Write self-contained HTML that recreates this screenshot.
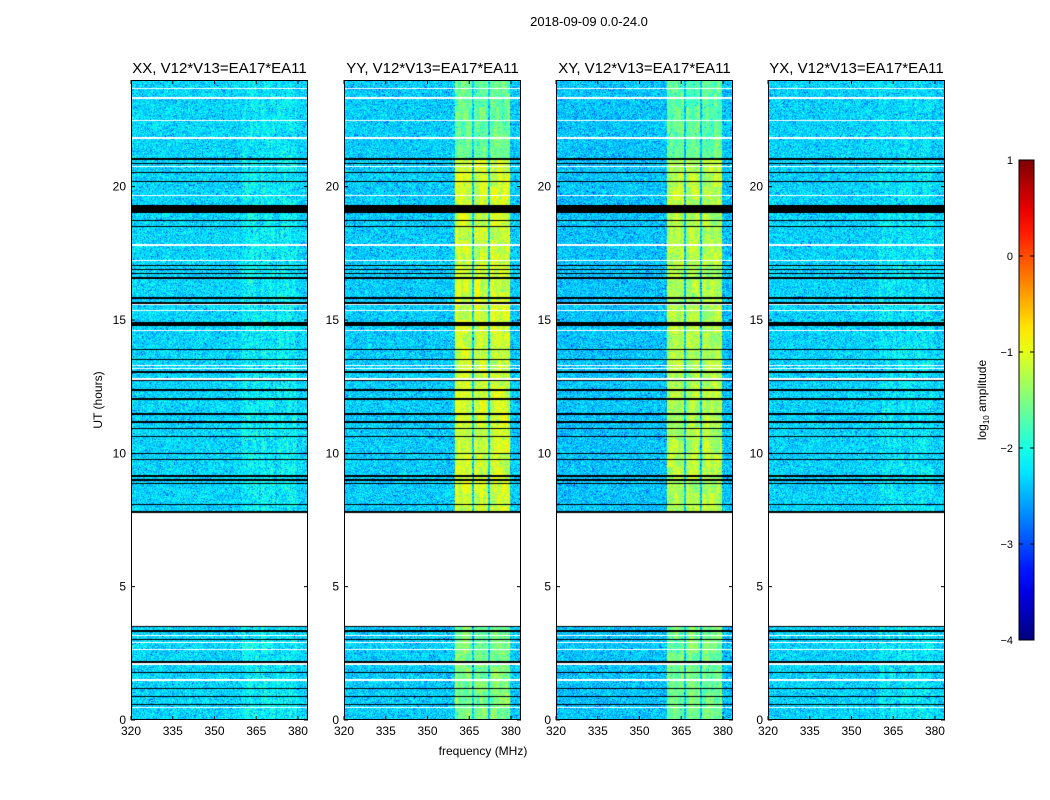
<!DOCTYPE html>
<html><head><meta charset="utf-8">
<style>
body{margin:0;background:#fff;width:1050px;height:800px;overflow:hidden;font-family:"Liberation Sans",sans-serif;}
#wrap{position:relative;width:1050px;height:800px;}
canvas{position:absolute;}
svg{position:absolute;left:0;top:0;}
</style></head>
<body>
<div id="wrap">
<svg id="ax" width="1050" height="800"></svg>
</div>
<script>
// ---- data ----
const panelTitles = ["XX, V12*V13=EA17*EA11","YY, V12*V13=EA17*EA11","XY, V12*V13=EA17*EA11","YX, V12*V13=EA17*EA11"];
const yTicks = [0,5,10,15,20];
const xTicks = [320,335,350,365,380];
const cbTicks = [1,0,-1,-2,-3,-4];
const baseLevel = [-2.3,-2.35,-2.4,-2.32];          // background log10 amplitude
const bandLevelMid = [-2.15,-1.1,-1.25,-2.2];       // 7.75-21 h
const bandLevelLow = [-2.15,-1.5,-1.55,-2.2];       // 0-3.5 h
const bandLevelTop = [-2.2,-1.6,-1.65,-2.25];       // 21-24 h
const bandRegions = [[360,366],[366.8,371.6],[372.5,379.6]];
const blankRange = [3.5,7.75];
const blackRows = [21.04,20.88,20.54,20.2,18.73,18.5,17.04,16.89,16.74,16.57,15.83,15.64,13.9,13.52,13.05,12.72,12.38,12.04,11.48,11.17,10.92,10.64,9.99,9.76,9.15,9.0,8.86,8.09,7.8,3.5,3.34,3.01,2.18,1.78,1.19,0.87,0.59];
const blackBands = [[19.03,19.3],[14.78,14.92]];
const whiteRows = [23.67,23.33,22.47,21.83,20.76,19.66,17.81,17.23,15.57,15.36,14.61,13.3,13.17,12.8,12.77,3.18,2.9,2.64,2.1,1.5,0.48];
// ---- layout ----
const PX=[131,344,556,768], PW=177, PT=80, PH=640, F0=320, F1=383.6, T1=24;
const NS='http://www.w3.org/2000/svg';
const svg=document.getElementById('ax');
function xs(f,i){return PX[i]+(f-F0)/(F1-F0)*PW;}
function ys(t){return PT+PH-(t/T1)*PH;}
function jet(v){
 const r=Math.min(Math.max(Math.min(4*v-1.5,-4*v+4.5),0),1);
 const g=Math.min(Math.max(Math.min(4*v-0.5,-4*v+3.5),0),1);
 const b=Math.min(Math.max(Math.min(4*v+0.5,-4*v+2.5),0),1);
 return [r*255|0,g*255|0,b*255|0];}
function hash(a,b,c){let h=(a*374761393+b*668265263+c*2147483647)|0;h=(h^(h>>>13))*1274126177|0;h=h^(h>>>16);return ((h>>>0)%10000)/10000;}
function el(tag,attrs,txt){const e=document.createElementNS(NS,tag);for(const k in attrs)e.setAttribute(k,attrs[k]);if(txt!==undefined)e.textContent=txt;svg.appendChild(e);return e;}
const NCH=64;
for(let p=0;p<4;p++){
 const c=document.createElement('canvas');c.width=PW;c.height=PH;
 c.style.left=PX[p]+'px';c.style.top=PT+'px';
 
 
 document.getElementById('wrap').insertBefore(c,svg);
 const ctx=c.getContext('2d');const img=ctx.createImageData(PW,PH);
 const strong = bandLevelMid[p] > -1.8;
 for(let y=0;y<PH;y++){
  const t=(PH-y-0.5)/PH*T1; const row=Math.floor(t/0.1);
  let flag=0;
  if(t>=blankRange[0]&&t<=blankRange[1])flag=2;
  for(const b of blackRows) if(Math.abs(t-b)<0.025)flag=1;
  for(const b of blackBands) if(t>=b[0]&&t<=b[1])flag=1;
  for(const w of whiteRows) if(Math.abs(t-w)<0.025)flag=2;
  const bl=t<blankRange[0]?bandLevelLow[p]:(t>21?bandLevelTop[p]:bandLevelMid[p]);
  for(let x=0;x<PW;x++){
   const f=F0+(x+0.5)/PW*(F1-F0); const ch=Math.floor(x/PW*NCH);
   let rgb;
   if(flag===1)rgb=[0,0,0];else if(flag===2)rgb=[255,255,255];
   else{
    let lv=baseLevel[p]; let inb=false;
    for(const r of bandRegions) if(f>=r[0]&&f<r[1])inb=true;
    if(inb) lv=bl+(hash(ch,Math.floor(row/5),p+7)-0.5)*(strong?0.4:0.25);
    const n=(hash(x,y,p)+hash(x,y,p+11)+hash(x,y,p+23))/3-0.5;
    lv+= n*(inb&&strong?0.7:1.3);
    if(hash(x,y,p+41)<0.035) lv-=0.6;
    rgb=jet((lv+4)/5);
   }
   const k=(y*PW+x)*4;img.data[k]=rgb[0];img.data[k+1]=rgb[1];img.data[k+2]=rgb[2];img.data[k+3]=255;
  }}
 ctx.putImageData(img,0,0);
 const fr=el('rect',{x:PX[p]+0.5,y:PT+0.5,width:PW-1,height:PH-1,fill:'none',stroke:'#000','stroke-width':1});
 
 
 const tt=el('text',{x:PX[p]+PW/2,y:73,'text-anchor':'middle','font-size':15},panelTitles[p]);
 
 
 for(const v of yTicks){const y=ys(v);
  el('line',{x1:PX[p],x2:PX[p]+4,y1:y,y2:y,stroke:'#000'});
  el('line',{x1:PX[p]+PW-4,x2:PX[p]+PW,y1:y,y2:y,stroke:'#000'});
  const l=el('text',{x:PX[p]-5,y:y+4,'text-anchor':'end','font-size':12},String(v));
  
  }
 for(const v of xTicks){const x=xs(v,p);
  el('line',{x1:x,x2:x,y1:PT+PH,y2:PT+PH-4,stroke:'#000'});
  el('line',{x1:x,x2:x,y1:PT,y2:PT+4,stroke:'#000'});
  const l=el('text',{x:x,y:PT+PH+15,'text-anchor':'middle','font-size':12},String(v));
  
  }
}
let e;
e=el('text',{x:589,y:26,'text-anchor':'middle','font-size':13},'2018-09-09 0.0-24.0');


e=el('text',{x:483,y:755,'text-anchor':'middle','font-size':12},'frequency (MHz)');


e=el('text',{x:102,y:400,'text-anchor':'middle','font-size':12,transform:'rotate(-90 102 400)'},'UT (hours)');


const CBX=1019,CBW=15,CBT=160,CBH=480;
const defs=el('defs',{});
const g=document.createElementNS(NS,'linearGradient');g.setAttribute('id','jg');g.setAttribute('x1','0');g.setAttribute('y1','1');g.setAttribute('x2','0');g.setAttribute('y2','0');
for(let i=0;i<=20;i++){const s=document.createElementNS(NS,'stop');const c=jet(i/20);s.setAttribute('offset',i/20);s.setAttribute('stop-color','rgb('+c.join(',')+')');g.appendChild(s);}
defs.appendChild(g);
e=el('rect',{x:CBX,y:CBT,width:CBW,height:CBH,fill:'url(#jg)',stroke:'#000','stroke-width':1});


for(const v of cbTicks){const y=CBT+(1-v)/5*CBH;
 el('line',{x1:CBX,x2:CBX+4,y1:y,y2:y,stroke:'#000'});
 el('line',{x1:CBX+CBW-4,x2:CBX+CBW,y1:y,y2:y,stroke:'#000'});
 const l=el('text',{x:CBX-6,y:y+4,'text-anchor':'end','font-size':11},v<0?'\u2212'+(-v):String(v));
 
 }
e=el('text',{x:986,y:400,'text-anchor':'middle','font-size':12,transform:'rotate(-90 986 400)'});
e.innerHTML='log<tspan font-size="8" dy="3">10</tspan><tspan dy="-3"> amplitude</tspan>';


</script>
</body></html>
